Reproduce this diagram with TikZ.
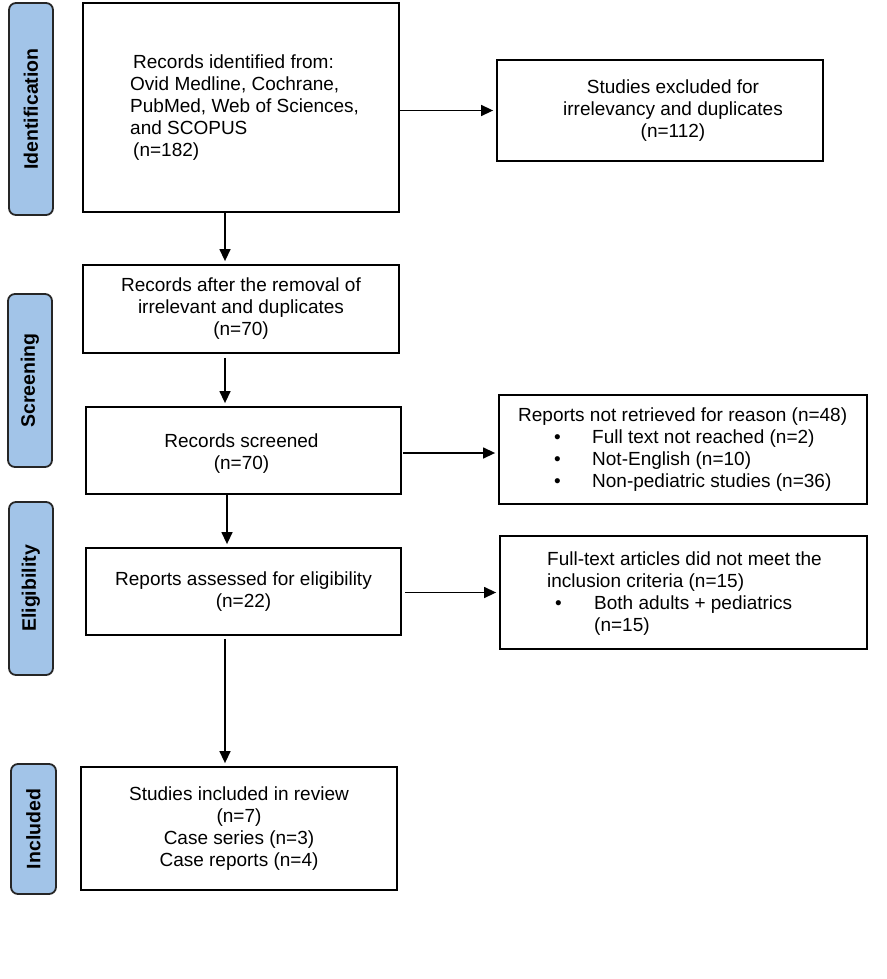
\documentclass[tikz,border=0pt]{standalone}
\usepackage{fontspec}
\setmainfont{Liberation Sans}
\usetikzlibrary{arrows.meta}
\definecolor{sideblue}{RGB}{162,196,232}
\newcommand\bulA{\makebox[74pt][l]{\hspace{36pt}\textbullet}}
\newcommand\bulB{\makebox[47pt][l]{\hspace{8pt}\textbullet}}
\begin{document}
\begin{tikzpicture}[x=1pt,y=-1pt,
  box/.style={draw=black, line width=1.8pt, inner sep=0pt, font=\fontsize{19}{22}\selectfont, align=center},
  side/.style={draw=black!85, fill=sideblue, line width=1.8pt, rounded corners=7pt, rotate=90,
    font=\fontsize{19.5}{22}\selectfont\bfseries, inner sep=0pt},
  txt/.style={font=\fontsize{19}{22}\selectfont, inner sep=0pt},
  arr/.style={line width=1.4pt, -{Triangle[length=12pt,width=11pt]}, shorten >=3pt}]
\useasboundingbox (0,0) rectangle (886,979);

% phase labels
\node[side, minimum width=212pt, minimum height=44pt] (sid) at (31,109) {Identification};
\node[side, minimum width=173pt, minimum height=44pt] (ssc) at (30,380.5) {Screening};
\node[side, minimum width=173pt, minimum height=44pt] (sel) at (31,588.5) {Eligibility};
\node[side, minimum width=130pt, minimum height=45pt] (sin) at (33.5,829) {Included};

% main boxes
\node[box, minimum width=316pt, minimum height=209pt] (b1) at (241,107.5) {};
\node[txt, anchor=west, align=left] (t1) at (130,108)
  {\hspace*{3pt}Records identified from:\\Ovid Medline, Cochrane,\\PubMed, Web of Sciences,\\and SCOPUS\\\hspace*{3pt}(n=182)};
\node[box, minimum width=316pt, minimum height=88pt] (b2) at (241,309)
  {Records after the removal of\\irrelevant and duplicates\\(n=70)};
\node[box, minimum width=315pt, minimum height=87pt] (b3) at (243.5,450.5) {};
\node[txt, align=center] (t3) at (241.5,453.5) {Records screened\\(n=70)};
\node[box, minimum width=315pt, minimum height=87pt] (b4) at (243.5,591.5)
  {Reports assessed for eligibility\\(n=22)};
\node[box, minimum width=316pt, minimum height=123pt] (b5) at (239,828.5)
  {Studies included in review\\(n=7)\\Case series (n=3)\\Case reports (n=4)};

% exclusion boxes
\node[box, minimum width=326pt, minimum height=101pt] (e1) at (660,110.5) {};
\node[txt, align=center] (te1) at (673,111)
  {Studies excluded for\\irrelevancy and duplicates\\(n=112)};
\node[box, minimum width=368pt, minimum height=109pt] (e2) at (683,449.5) {};
\node[txt, anchor=west, align=left] (te2) at (518,450)
  {Reports not retrieved for reason (n=48)\\\bulA Full text not reached (n=2)\\\bulA Not-English (n=10)\\\bulA Non-pediatric studies (n=36)};
\node[box, minimum width=367pt, minimum height=113pt] (e3) at (683.5,592.5) {};
\node[txt, anchor=west, align=left] (te3) at (547,593.5)
  {Full-text articles did not meet the\\inclusion criteria (n=15)\\\bulB Both adults + pediatrics\\\hspace*{47pt}(n=15)};

% connectors
\draw[arr] ([xshift=-16pt]b1.south) -- ([xshift=-16pt]b2.north);
\draw[arr] ([xshift=-16pt,yshift=-4pt]b2.south) -- ([xshift=-18.5pt]b3.north);
\draw[arr] ([xshift=-16.5pt]b3.south) -- ([xshift=-16.5pt]b4.north);
\draw[arr] ([xshift=-18.5pt,yshift=-3pt]b4.south) -- ([xshift=-14pt]b5.north);
\draw[arr] (b1.east |- e1.west) -- (e1.west);
\coordinate (e2in) at ([yshift=-3.5pt]e2.west);
\coordinate (b3r) at ([xshift=1pt]b3.east);
\draw[arr] (b3r |- e2in) -- (e2in);
\coordinate (b4r) at ([xshift=3pt]b4.east);
\draw[arr] (b4r |- e3.west) -- (e3.west);
\end{tikzpicture}
\end{document}
